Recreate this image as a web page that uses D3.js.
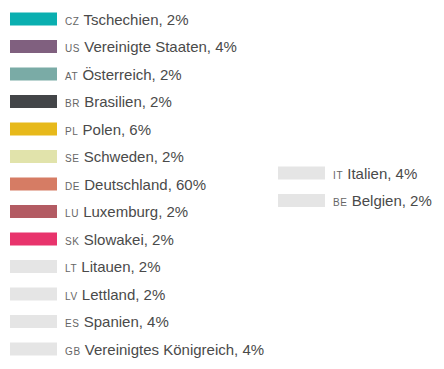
<!DOCTYPE html>
<html>
<head>
<meta charset="utf-8">
<script src="https://cdn.jsdelivr.net/npm/d3@7"></script>
<style>
  body { margin: 0; background: #fff; }
</style>
</head>
<body>
<svg id="legend" width="444" height="369"></svg>
<script>
var codes = ["CZ", "US", "AT", "BR", "PL", "SE", "DE", "LU", "SK", "LT", "LV", "ES", "GB", "IT", "BE"];
var names = ["Tschechien", "Vereinigte Staaten", "Österreich", "Brasilien", "Polen", "Schweden",
  "Deutschland", "Luxemburg", "Slowakei", "Litauen", "Lettland", "Spanien",
  "Vereinigtes Königreich", "Italien", "Belgien"];
var shares = [2, 4, 2, 2, 6, 2, 60, 2, 2, 2, 2, 4, 4, 4, 2];
var colors = ["#0aafb0", "#80607f", "#7aaba6", "#434548", "#e7b91b", "#e1e3ab", "#d67c64",
  "#b35b63", "#e8346c", "#e5e5e5", "#e5e5e5", "#e5e5e5", "#e5e5e5", "#e5e5e5", "#e5e5e5"];
var columnOf = [0, 0, 0, 0, 0, 0, 0, 0, 0, 0, 0, 0, 0, 1, 1];
var rowOf = [0, 1, 2, 3, 4, 5, 6, 7, 8, 9, 10, 11, 12, 0, 1];

var data = codes.map(function (c, i) {
  return { code: c, name: names[i], share: shares[i], color: colors[i], col: columnOf[i], row: rowOf[i] };
});

var svg = d3.select("#legend");

// first column: 13 rows, second column sits beside the middle rows
var y = d3.scaleLinear().domain([0, 12]).range([19, 349]);
var colX = d3.scaleOrdinal().domain([0, 1]).range([10, 278]);
var colY0 = [0, 5.6];

var item = svg.selectAll("g.item")
  .data(data)
  .enter()
  .append("g")
  .attr("class", "item")
  .attr("transform", function (d) {
    return "translate(" + colX(d.col) + "," + y(d.row + colY0[d.col]) + ")";
  });

item.append("rect")
  .attr("x", 0)
  .attr("y", -6.5)
  .attr("width", 47)
  .attr("height", 13)
  .attr("fill", function (d) { return d.color; });

var label = item.append("text")
  .attr("x", 55)
  .attr("y", 0)
  .attr("dy", "0.35em")
  .attr("font-family", "'Liberation Sans', Arial, sans-serif")
  .attr("fill", "#4a4a4a");

label.append("tspan")
  .attr("font-size", "10px")
  .attr("letter-spacing", "0.6px")
  .attr("fill", "#666")
  .text(function (d) { return d.code; });

label.append("tspan")
  .attr("font-size", "15px")
  .text(function (d) { return " " + d.name + ", " + d.share + "%"; });
</script>
</body>
</html>
